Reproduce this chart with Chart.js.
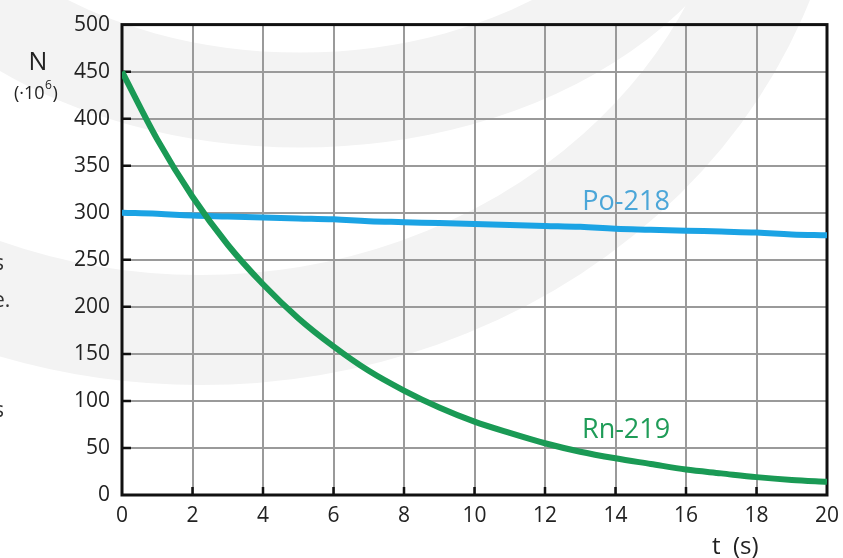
<!DOCTYPE html>
<html>
<head>
<meta charset="utf-8">
<title>Rn-219 / Po-218</title>
<script src="https://cdn.jsdelivr.net/npm/chart.js@4/dist/chart.umd.min.js"></script>
<style>
  html, body { margin: 0; padding: 0; background: #fff; }
  #wrap { position: relative; width: 843px; height: 558px; }
</style>
</head>
<body>
<div id="wrap"><canvas id="decay-chart"></canvas></div>
<script>
// time in seconds
const times = [0, 1, 2, 3, 4, 5, 6, 7, 8, 9, 10, 11, 12, 13, 14, 15, 16, 17, 18, 19, 20];
// number of nuclei (x 10^6)
const rn219 = [450, 378, 317, 266, 224, 188, 158, 132, 111, 93, 78, 66, 55, 46, 39, 33, 27, 23, 19, 16, 14];
const po218 = [300, 299, 297, 296, 295, 294, 293, 291, 290, 289, 288, 287, 286, 285, 283, 282, 281, 280, 279, 277, 276];

const seriesNames = ["Rn-219", "Po-218"];
const xRange = [0, 20];
const yRange = [0, 500];

const toPoints = (ys) => ys.map((y, i) => ({ x: times[i], y: y }));

const FONT = '"Open Sans", "DejaVu Sans", sans-serif';

// faint swoosh graphic behind the plot + clipped text from the page edge
const backdrop = {
  id: "backdrop",
  beforeDraw(chart) {
    const ctx = chart.ctx;
    ctx.save();
    ctx.fillStyle = "#fff";
    ctx.fillRect(0, 0, chart.width, chart.height);
    ctx.strokeStyle = "#f3f3f3";
    ctx.lineWidth = 110;
    ctx.beginPath();
    ctx.ellipse(200, -200, 594, 530, 0, 0, Math.PI);
    ctx.stroke();
    ctx.lineWidth = 95;
    ctx.beginPath();
    ctx.ellipse(300, -200, 430, 300, 0, 0, Math.PI);
    ctx.stroke();

    ctx.fillStyle = "#333";
    ctx.font = "21px " + FONT;
    ctx.textBaseline = "alphabetic";
    ctx.fillText("s", -6, 270);
    ctx.fillText("e.", -7, 307);
    ctx.fillText("s", -6, 417);
    ctx.restore();
  },
};

// black frame and inward tick marks
const frame = {
  id: "frame",
  beforeDatasetsDraw(chart) {
    const { ctx, chartArea: a, scales } = chart;
    ctx.save();
    ctx.strokeStyle = "#111";
    ctx.lineWidth = 2.5;
    ctx.beginPath();
    scales.y.ticks.forEach((t) => {
      if (t.value <= yRange[0] || t.value >= yRange[1]) return;
      const py = scales.y.getPixelForValue(t.value);
      ctx.moveTo(a.left, py);
      ctx.lineTo(a.left + 9, py);
    });
    scales.x.ticks.forEach((t) => {
      if (t.value <= xRange[0] || t.value >= xRange[1]) return;
      const px = scales.x.getPixelForValue(t.value);
      ctx.moveTo(px, a.bottom);
      ctx.lineTo(px, a.bottom - 8);
    });
    ctx.stroke();
    ctx.lineWidth = 3;
    ctx.strokeRect(a.left, a.top, a.right - a.left, a.bottom - a.top);
    ctx.restore();
  },
};

// curve names and axis titles
const annotations = {
  id: "annotations",
  afterDatasetsDraw(chart) {
    const { ctx, scales } = chart;
    ctx.save();
    ctx.textBaseline = "alphabetic";
    ctx.textAlign = "center";
    ctx.font = "27px " + FONT;
    ctx.fillStyle = "#4ba6d8";
    ctx.fillText(seriesNames[1], scales.x.getPixelForValue(14.3), 210);
    ctx.fillStyle = "#1f9c58";
    ctx.fillText(seriesNames[0], scales.x.getPixelForValue(14.3), 438);

    ctx.fillStyle = "#222";
    ctx.font = "25px " + FONT;
    ctx.fillText("N", 38, 70);
    ctx.textAlign = "left";
    ctx.font = "18px " + FONT;
    let x = 14;
    ctx.fillText("(\u00b710", x, 99);
    x += ctx.measureText("(\u00b710").width;
    ctx.font = "12px " + FONT;
    ctx.fillText("6", x + 0.5, 89);
    x += ctx.measureText("6").width + 1;
    ctx.font = "18px " + FONT;
    ctx.fillText(")", x, 99);

    ctx.font = "24px " + FONT;
    ctx.fillText("t", 712, 554);
    ctx.fillText("(s)", 733, 554);
    ctx.restore();
  },
};

const ctx = document.getElementById("decay-chart").getContext("2d");
new Chart(ctx, {
  type: "line",
  data: {
    datasets: [
      {
        label: seriesNames[0],
        data: toPoints(rn219),
        borderColor: "#1a9a55",
        borderWidth: 6,
        pointRadius: 0,
        tension: 0.4,
        cubicInterpolationMode: "monotone",
      },
      {
        label: seriesNames[1],
        data: toPoints(po218),
        borderColor: "#1ba3e4",
        borderWidth: 6,
        pointRadius: 0,
        tension: 0.4,
      },
    ],
  },
  options: {
    responsive: true,
    maintainAspectRatio: false,
    animation: false,
    devicePixelRatio: 1,
    layout: { padding: { left: 0, right: 0, top: 23, bottom: 0 } },
    plugins: {
      legend: { display: false },
      tooltip: { enabled: false },
    },
    scales: {
      x: {
        type: "linear",
        min: xRange[0],
        max: xRange[1],
        afterFit: (s) => {
          s.height = 63;
          s.paddingLeft = 0;
          s.paddingRight = 16;
        },
        grid: { color: "#9a9a9a", lineWidth: 2, drawTicks: false },
        border: { display: false },
        ticks: {
          stepSize: 2,
          padding: 8,
          color: "#222",
          font: { family: FONT, size: 21 },
        },
      },
      y: {
        min: yRange[0],
        max: yRange[1],
        afterFit: (s) => { s.width = 122; },
        grid: { color: "#9a9a9a", lineWidth: 2, drawTicks: false },
        border: { display: false },
        ticks: {
          stepSize: 50,
          padding: 12,
          color: "#222",
          font: { family: FONT, size: 21 },
        },
      },
    },
  },
  plugins: [backdrop, frame, annotations],
});
</script>
</body>
</html>
